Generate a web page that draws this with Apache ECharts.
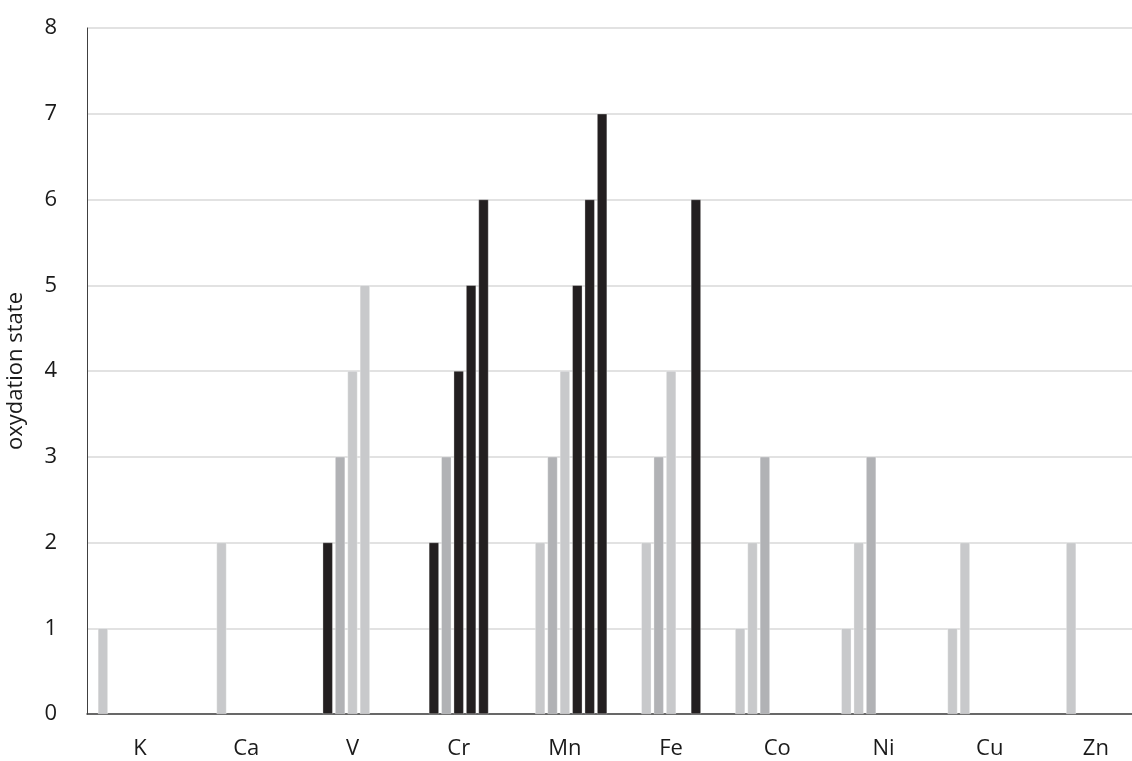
<!DOCTYPE html>
<html>
<head>
<meta charset="utf-8">
<script src="https://cdn.jsdelivr.net/npm/echarts@6/dist/echarts.min.js"></script>
<style>html,body{margin:0;padding:0;background:#fff}#c{width:1132px;height:761px}</style>
</head>
<body>
<div id="c"></div>
<script>
// Data
const categories = ['K', 'Ca', 'V', 'Cr', 'Mn', 'Fe', 'Co', 'Ni', 'Cu', 'Zn'];
const yTicks = [0, 1, 2, 3, 4, 5, 6, 7, 8];
const ox1 = [1, null, null, null, null, null, 1, 1, 1, null];
const ox2 = [null, 2, 2, 2, 2, 2, 2, 2, 2, 2];
const ox3 = [null, null, 3, 3, 3, 3, 3, 3, null, null];
const ox4 = [null, null, 4, 4, 4, 4, null, null, null, null];
const ox5 = [null, null, 5, 5, 5, null, null, null, null, null];
const ox6 = [null, null, null, 6, 6, 6, null, null, null, null];
const ox7 = [null, null, null, null, 7, null, null, null, null, null];
// bars drawn in the dark shade: [element, state]
const darkBars = [['V', 2], ['Cr', 2], ['Cr', 4], ['Cr', 5], ['Cr', 6], ['Mn', 5], ['Mn', 6], ['Mn', 7], ['Fe', 6]];
// state drawn in the medium shade
const midStates = [3];

const seriesValues = [ox1, ox2, ox3, ox4, ox5, ox6, ox7];
const DARK = '#231f20', MID = '#b1b2b5', LIGHT = '#c8c9cb';

function colorFor(el, st) {
  if (darkBars.some(d => d[0] === el && d[1] === st)) return DARK;
  if (midStates.includes(st)) return MID;
  return LIGHT;
}

const series = seriesValues.map((arr, si) => ({
  type: 'bar',
  name: 'ox' + (si + 1),
  barWidth: 10,
  barGap: '24%',
  data: arr.map((v, i) => v == null ? null : {
    value: v,
    itemStyle: { color: colorFor(categories[i], si + 1) }
  }),
  itemStyle: { borderColor: 'rgba(255,255,255,0.6)', borderWidth: 0.5 },
  silent: true
}));

const chart = echarts.init(document.getElementById('c'), null, { renderer: 'canvas' });
chart.setOption({
  animation: false,
  backgroundColor: '#fff',
  textStyle: { fontFamily: 'Open Sans' },
  grid: { left: 87, right: -17, top: 28, bottom: 47, containLabel: false, outerBoundsMode: 'none' },
  xAxis: {
    type: 'category',
    data: categories,
    axisTick: { show: false },
    axisLine: { lineStyle: { color: '#404040', width: 1.5 } },
    axisLabel: { color: '#1a1a1a', fontSize: 22, fontFamily: 'Open Sans', margin: 24 },
    splitLine: { show: false }
  },
  yAxis: {
    type: 'value',
    min: yTicks[0],
    max: yTicks[yTicks.length - 1],
    interval: 1,
    name: 'oxydation state',
    nameLocation: 'middle',
    nameGap: 60,
    nameTextStyle: { color: '#1a1a1a', fontSize: 22, fontFamily: 'Open Sans' },
    axisLine: { show: true, lineStyle: { color: '#404040', width: 1 } },
    axisTick: { show: false },
    axisLabel: { color: '#1a1a1a', fontSize: 22, fontFamily: 'Open Sans', margin: 30 },
    splitLine: { lineStyle: { color: '#d9d9d9', width: 1.5 } }
  },
  series: series
});
</script>
</body>
</html>
